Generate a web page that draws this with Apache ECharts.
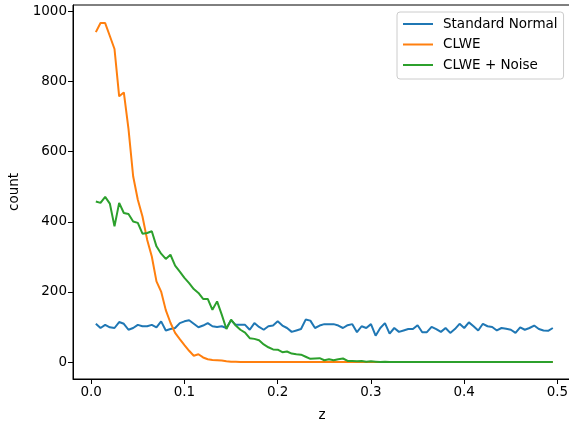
<!DOCTYPE html>
<html>
<head>
<meta charset="utf-8">
<script src="https://cdn.jsdelivr.net/npm/echarts@6/dist/echarts.min.js"></script>
<style>
  html, body { margin: 0; padding: 0; background: #fff; }
  #main { width: 569px; height: 424px; }
</style>
</head>
<body>
<div id="main"></div>
<script>
// z positions: 0.005 .. 0.495, step 0.005
var zValues = [];
for (var k = 1; k <= 99; k++) zValues.push(+(k * 0.005).toFixed(3));

var standardNormal = [109, 97, 106, 99, 97, 114, 109, 92, 97, 106, 102, 102, 106, 99, 116, 90, 94, 97, 111, 116,
  119, 109, 99, 104, 111, 102, 100, 102, 97, 119, 106, 106, 106, 92, 111, 100, 92, 102, 104, 116,
  104, 97, 86, 90, 94, 121, 118, 97, 104, 108, 108, 108, 104, 97, 105, 108, 85, 102, 97, 108,
  75, 97, 111, 81, 97, 86, 90, 94, 94, 105, 85, 85, 100, 94, 86, 97, 83, 94, 109, 97,
  113, 102, 90, 109, 102, 100, 90, 97, 95, 92, 83, 99, 92, 97, 104, 94, 90, 89, 97];

var clwe = [941, 967, 967, 930, 893, 758, 769, 665, 530, 463, 415, 349, 301, 230, 201, 148, 112, 83, 65, 48,
  32, 18, 22, 13, 8, 6, 5, 4, 2, 1, 1, 0, 0, 0, 0, 0, 0, 0, 0, 0,
  0, 0, 0, 0, 0, 0, 0, 0, 0, 0, 0, 0, 0, 0, 0, 0, 0, 0, 0, 0,
  0, 0, 0, 0, 0, 0, 0, 0, 0, 0, 0, 0, 0, 0, 0, 0, 0, 0, 0, 0,
  0, 0, 0, 0, 0, 0, 0, 0, 0, 0, 0, 0, 0, 0, 0, 0, 0, 0, 0];

var clweNoise = [458, 454, 471, 452, 387, 454, 425, 422, 401, 397, 366, 368, 373, 330, 309, 294, 306, 275, 258, 240,
  225, 208, 197, 180, 180, 149, 173, 135, 94, 121, 104, 92, 84, 68, 66, 62, 50, 42, 36, 35,
  28, 30, 24, 22, 21, 15, 9, 10, 11, 5, 8, 5, 8, 10, 3, 3, 2, 3, 1, 2,
  1, 0, 1, 0, 0, 0, 0, 0, 0, 0, 0, 0, 0, 0, 0, 0, 0, 0, 0, 0,
  0, 0, 0, 0, 0, 0, 0, 0, 0, 0, 0, 0, 0, 0, 0, 0, 0, 0, 0];

var xTicks = [0, 0.1, 0.2, 0.3, 0.4, 0.5];
var yTicks = [0, 200, 400, 600, 800, 1000];

function pairs(ys) {
  return zValues.map(function (x, i) { return [x, ys[i]]; });
}

var chart = echarts.init(document.getElementById('main'));
var font = 'DejaVu Sans';

chart.setOption({
  animation: false,
  backgroundColor: '#fff',
  textStyle: { fontFamily: font },
  grid: {
    left: 73, top: 5, width: 498, height: 374,
    outerBoundsMode: 'none', containLabel: false,
    show: true, borderColor: '#000', borderWidth: 1, backgroundColor: 'transparent'
  },
  legend: {
    left: 397, top: 12,
    orient: 'vertical',
    padding: [5, 6, 7, 6],
    itemGap: 6.5,
    itemWidth: 30, itemHeight: 2,
    icon: 'rect',
    backgroundColor: 'rgba(255,255,255,0.8)',
    borderColor: '#cccccc', borderWidth: 1, borderRadius: 3,
    textStyle: { fontFamily: font, fontSize: 13.5, color: '#000', lineHeight: 14, padding: [0, 0, 0, 5] },
    data: ['Standard Normal', 'CLWE', 'CLWE + Noise']
  },
  xAxis: {
    type: 'value',
    min: -0.0195, max: 0.5145,
    name: 'z', nameLocation: 'middle', nameGap: 29,
    nameTextStyle: { fontFamily: font, fontSize: 13.5, color: '#000' },
    axisLine: { onZero: false, lineStyle: { color: '#000', width: 1 } },
    axisTick: { show: true, length: 5, customValues: xTicks, lineStyle: { color: '#000' } },
    axisLabel: {
      customValues: xTicks, margin: 6, fontFamily: font, fontSize: 13.5, color: '#000',
      formatter: function (v) { return v.toFixed(1); }
    },
    splitLine: { show: false }
  },
  yAxis: {
    type: 'value',
    min: -48.5, max: 1018.5,
    name: 'count', nameLocation: 'middle', nameGap: 52, nameRotate: 90,
    nameTextStyle: { fontFamily: font, fontSize: 13.5, color: '#000' },
    axisLine: { show: true, onZero: false, lineStyle: { color: '#000', width: 1 } },
    axisTick: { show: true, length: 5, customValues: yTicks, lineStyle: { color: '#000' } },
    axisLabel: {
      customValues: yTicks, margin: 6, fontFamily: font, fontSize: 13.5, color: '#000',
      formatter: function (v) { return String(v); }
    },
    splitLine: { show: false }
  },
  series: [
    { name: 'Standard Normal', type: 'line', data: pairs(standardNormal), showSymbol: false,
      color: '#1f77b4', lineStyle: { width: 2, color: '#1f77b4' } },
    { name: 'CLWE', type: 'line', data: pairs(clwe), showSymbol: false,
      color: '#ff7f0e', lineStyle: { width: 2, color: '#ff7f0e' } },
    { name: 'CLWE + Noise', type: 'line', data: pairs(clweNoise), showSymbol: false,
      color: '#2ca02c', lineStyle: { width: 2, color: '#2ca02c' } }
  ]
});
</script>
</body>
</html>
